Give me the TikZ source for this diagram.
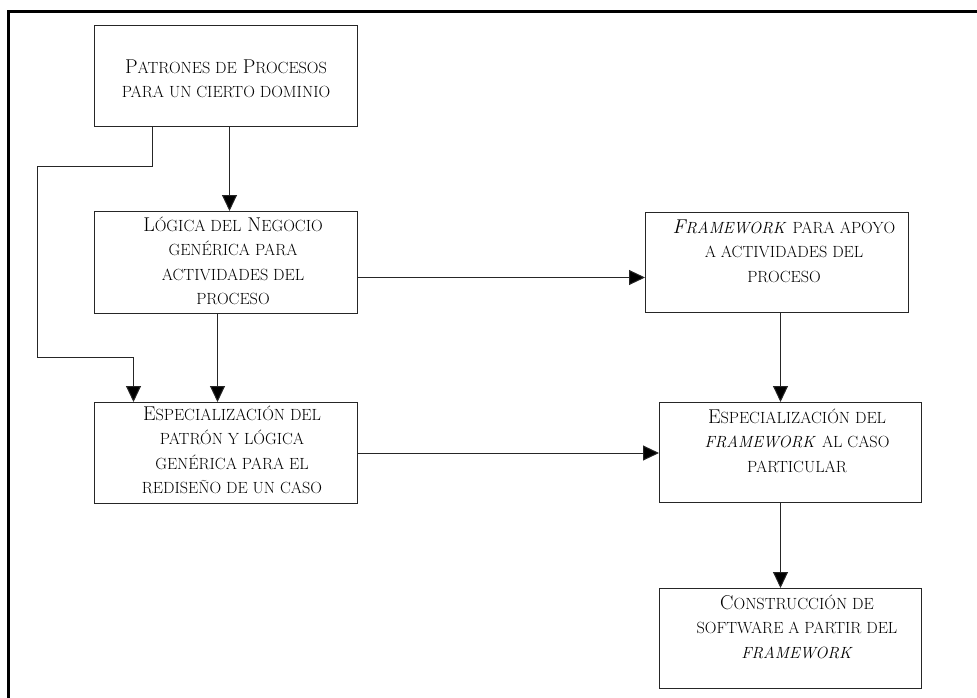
\documentclass[tikz,border=0pt]{standalone}
\usetikzlibrary{arrows.meta}
\newcommand\SC[1]{{\fontsize{16.2}{24.5}\selectfont #1}}
\tikzset{
  box/.style={draw=black!85, line width=1pt, inner sep=0pt, anchor=north west,
              minimum width=263pt, minimum height=101pt},
  txt/.style={anchor=north, align=center, inner sep=0pt,
              font=\fontsize{20}{24.5}\selectfont},
  arr/.style={line width=1pt, draw=black!85, -{Triangle[width=15pt,length=16pt,fill=black]}},
}
\begin{document}
\begin{tikzpicture}[x=1pt,y=-1pt]
\useasboundingbox (0,0) rectangle (977,698);
\draw[line width=2.7pt] (8.8,698) -- (8.8,11.5) -- (977,11.5);

% boxes
\node[box] (p) at (94,25) {};
\node[box, minimum height=102pt] (l) at (94,211) {};
\node[box] (e) at (94,402) {};
\node[box, minimum height=100pt] (f) at (645,212) {};
\node[box, minimum width=262pt, minimum height=100pt] (s) at (659,402) {};
\node[box, minimum width=262pt, minimum height=100pt] (c) at (659,588) {};

% texts
\node[txt] (pt) at (226,57) {\rule{0pt}{16pt}P\SC{ATRONES DE} P\SC{ROCESOS}\\ \SC{PARA UN CIERTO DOMINIO}};
\node[txt] (lt) at (233,215) {\rule{0pt}{16pt}L\SC{ÓGICA DEL} N\SC{EGOCIO}\\ \SC{GENÉRICA PARA}\\ \SC{ACTIVIDADES DEL}\\ \SC{PROCESO}};
\node[txt] (et) at (232,404) {\rule{0pt}{16pt}E\SC{SPECIALIZACIÓN DEL}\\ \SC{PATRÓN Y LÓGICA}\\ \SC{GENÉRICA PARA EL}\\ \SC{REDISEÑO DE UN CASO}};
\node[txt] (ft) at (784,217) {\rule{0pt}{16pt}\textit{F\SC{RAMEWORK}} \SC{PARA APOYO}\\ \SC{A ACTIVIDADES DEL}\\ \SC{PROCESO}};
\node[txt] (st) at (797,407) {\rule{0pt}{16pt}E\SC{SPECIALIZACIÓN DEL}\\ \textit{\SC{FRAMEWORK}} \SC{AL CASO}\\ \SC{PARTICULAR}};
\node[txt] (ct) at (797,593) {\rule{0pt}{16pt}C\SC{ONSTRUCCIÓN DE}\\ \SC{SOFTWARE A PARTIR DEL}\\ \textit{\SC{FRAMEWORK}}};

% connectors
\coordinate (k2) at (37,357);
\draw[arr] ([xshift=3.5pt]p.south) -- ([xshift=3.5pt]l.north);
\draw[arr] ([xshift=-73.5pt]p.south) -- ++(0,39) -| (k2) -| ([xshift=-92.5pt]e.north);
\draw[arr] ([xshift=-8.5pt]l.south) -- ([xshift=-8.5pt]e.north);
\draw[arr] ([yshift=-15pt]l.east) -- ([yshift=-15pt]l.east -| f.west);
\draw[arr] (e.east) -- (e.east -| s.west);
\draw[arr] ([xshift=3.5pt]f.south) -- ([xshift=-10pt]s.north);
\draw[arr] ([xshift=-10pt]s.south) -- ([xshift=-10pt]c.north);
\end{tikzpicture}
\end{document}
